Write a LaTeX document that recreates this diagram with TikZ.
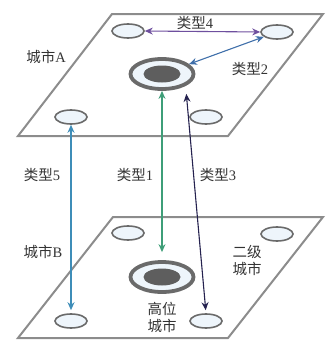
\documentclass[tikz,border=0pt]{standalone}
\usepackage{fontspec}
\setmainfont{Liberation Serif}
\newfontfamily\cjk{Noto Sans CJK SC}
\usetikzlibrary{shapes.geometric,arrows.meta}
\definecolor{plane}{HTML}{8C8C8C}
\definecolor{cityline}{HTML}{6A6A6A}
\definecolor{cityfill}{HTML}{EEF5FB}
\definecolor{core}{HTML}{5E5E5E}
\definecolor{cpurple}{HTML}{6E4F9E}
\definecolor{cblue}{HTML}{3F6FAA}
\definecolor{cgreen}{HTML}{3E9E78}
\definecolor{cnavy}{HTML}{25224F}
\definecolor{cteal}{HTML}{3E8DB8}
\definecolor{txt}{HTML}{333333}
\tikzset{
  planebox/.style={draw=plane, line width=2pt, line join=miter},
  city/.style={ellipse, draw=cityline, fill=cityfill, line width=1.6pt, minimum width=32pt, minimum height=14pt, inner sep=0pt},
  ring/.style={ellipse, draw=cityline, fill=cityfill, line width=3.8pt, minimum width=63pt, minimum height=30pt, inner sep=0pt},
  corefill/.style={ellipse, fill=core, minimum width=37pt, minimum height=17pt, inner sep=0pt},
  lab/.style={text=txt, font=\fontsize{14.5}{17}\selectfont, inner sep=1pt, align=center},
  conn/.style={line width=1.1pt, {Stealth[length=8pt,width=7pt]}-{Stealth[length=8pt,width=7pt]}},
}
\begin{document}
\begin{tikzpicture}[x=1pt,y=-1pt]
\useasboundingbox (0,0) rectangle (327,340);
% planes
\draw[planebox] (112,14) -- (323,14) -- (228,136) -- (18,136) -- cycle;
\draw[planebox] (113,217) -- (323,217) -- (228,338) -- (18,338) -- cycle;
% city A layer
\node[city] (A1) at (128,31) {};
\node[city] (A2) at (277,32) {};
\node[city] (A3) at (71,117) {};
\node[city] (A4) at (206,117) {};
\node[ring] (Ac) at (162,74) {};
\node[corefill] (Acore) at (162,74) {};
% city B layer
\node[city] (B1) at (128,233) {};
\node[city] (B2) at (277,234) {};
\node[city] (B3) at (71,321) {};
\node[city] (B4) at (206,321) {};
\node[ring] (Bc) at (162,277) {};
\node[corefill] (Bcore) at (162,277) {};
% connectors
\draw[conn, cpurple] (A1.east) -- (A2.west);
\draw[conn, cblue] (A2) -- (Ac);
\draw[conn, cgreen, shorten >=8pt] (Ac.south) -- (Bc.north);
\draw[conn, cnavy, shorten <=8pt, shorten >=3pt] (Ac.south east) -- (B4.north);
\draw[conn, cteal, shorten >=3pt] (A3.south) -- (B3.north);
% labels
\node[lab] (l4) at (195,23) {{\cjk 类型}4};
\node[lab] (l2) at (250,69) {{\cjk 类型}2};
\node[lab] (lA) at (46,57) {{\cjk 城市}A};
\node[lab] (l5) at (42,175) {{\cjk 类型}5};
\node[lab] (l1) at (135,175) {{\cjk 类型}1};
\node[lab] (l3) at (218,175) {{\cjk 类型}3};
\node[lab] (lB) at (43,252) {{\cjk 城市}B};
\node[lab] (l2c) at (247,261) {\cjk 二级\\\cjk 城市};
\node[lab] (lhc) at (162,317) {\cjk 高位\\\cjk 城市};
\end{tikzpicture}
\end{document}
